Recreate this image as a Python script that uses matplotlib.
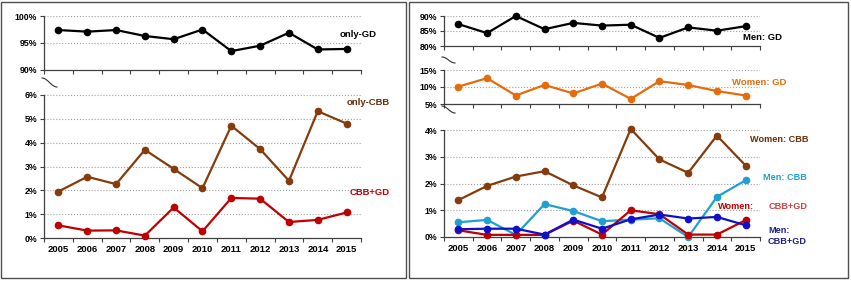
import numpy as np
import matplotlib
matplotlib.use("Agg")
import matplotlib.pyplot as plt
from matplotlib.patches import Rectangle
from matplotlib.lines import Line2D

plt.rcParams['font.family'] = ['Liberation Sans', 'DejaVu Sans']
plt.rcParams['font.weight'] = 'bold'

YEARS = ['2005', '2006', '2007', '2008', '2009', '2010', '2011', '2012', '2013', '2014', '2015']

# left panel (all)
ONLY_GD = [97.4, 97.1, 97.4, 96.3, 95.7, 97.5, 93.5, 94.5, 96.9, 93.8, 93.9]
ONLY_CBB = [1.95, 2.57, 2.26, 3.70, 2.90, 2.09, 4.71, 3.73, 2.40, 5.32, 4.80]
CBB_GD = [0.53, 0.31, 0.32, 0.10, 1.28, 0.28, 1.68, 1.65, 0.67, 0.76, 1.07]

# right panel (by sex)
MEN_GD = [87.3, 84.3, 90.0, 85.6, 87.7, 86.8, 87.1, 82.7, 86.2, 85.1, 86.6]
WOMEN_GD = [10.1, 12.6, 7.5, 10.6, 8.1, 11.0, 6.5, 11.7, 10.6, 8.8, 7.5]
WOMEN_CBB = [1.38, 1.91, 2.26, 2.46, 1.93, 1.48, 4.04, 2.90, 2.40, 3.79, 2.67]
MEN_CBB = [0.55, 0.64, 0.08, 1.23, 0.97, 0.59, 0.65, 0.70, 0.00, 1.50, 2.12]
WOMEN_CBB_GD = [0.25, 0.08, 0.08, 0.08, 0.61, 0.09, 1.00, 0.85, 0.09, 0.09, 0.63]
MEN_CBB_GD = [0.29, 0.31, 0.31, 0.09, 0.65, 0.31, 0.66, 0.84, 0.69, 0.75, 0.44]

W, H = 851, 282
fig = plt.figure(figsize=(W / 100, H / 100), dpi=100)

BLACK = '#000000'
BROWN = '#843C0C'
RED = '#C00000'
ORANGE = '#E46C0A'
LBLUE = '#1FA0D0'
BLUE = '#1010C8'


def px_axes(x0, y0, x1, y1):
    return fig.add_axes([x0 / W, 1 - y1 / H, (x1 - x0) / W, (y1 - y0) / H])


def style(ax, ylim, yticks, ylabels, show_years=False):
    x = np.arange(len(YEARS))
    ax.set_xlim(-0.5, len(YEARS) - 0.5)
    ax.set_ylim(*ylim)
    ax.set_xticks(np.arange(len(YEARS) + 1) - 0.5)
    ax.set_xticklabels([])
    ax.set_xticks(x, minor=True)
    if show_years:
        ax.set_xticklabels(YEARS, minor=True, fontsize=6.8, fontweight='bold')
    ax.tick_params(axis='x', which='major', length=3, direction='out', color='#404040')
    ax.tick_params(axis='x', which='minor', length=0, pad=5)
    ax.set_yticks(yticks)
    ax.set_yticklabels(ylabels, fontsize=6.3, fontweight='bold')
    ax.tick_params(axis='y', length=3, direction='out', color='#404040', pad=2)
    for s in ['top', 'right']:
        ax.spines[s].set_visible(False)
    for s in ['left', 'bottom']:
        ax.spines[s].set_color('#404040')
        ax.spines[s].set_linewidth(0.9)
    for v in yticks[1:]:
        ax.axhline(v, color='#A0A0A0', lw=0.8, ls=':', zorder=0)
    ax.patch.set_alpha(0)


def line(ax, vals, color):
    ax.plot(np.arange(len(vals)), vals, color=color, lw=1.6, marker='o',
            markersize=4.5, clip_on=False, zorder=3)


def squiggle(x0, y0, x1, y1):
    t = np.linspace(0, 1, 30)
    xs = x0 + (x1 - x0) * t
    ys = y0 + (y1 - y0) * (0.5 - 0.5 * np.cos(np.pi * t))
    fig.add_artist(Line2D(xs / W, 1 - ys / H, color='#303030', lw=0.8))


# panel borders
fig.add_artist(Rectangle((1 / W, 4 / H), 405 / W, 276 / H, fill=False,
                         edgecolor='#505050', lw=1.0, transform=fig.transFigure))
fig.add_artist(Rectangle((409 / W, 4 / H), 439 / W, 276 / H, fill=False,
                         edgecolor='#505050', lw=1.0, transform=fig.transFigure))

# ---- left panel
ax1 = px_axes(44, 16, 361, 70)
style(ax1, (90, 100), [90, 95, 100], ['90%', '95%', '100%'])
line(ax1, ONLY_GD, BLACK)
ax1.text(10.4, 96.5, 'only-GD', ha='center', va='center', fontsize=6.8,
         fontweight='bold', color=BLACK)

ax2 = px_axes(44, 95, 361, 238)
style(ax2, (0, 6), [0, 1, 2, 3, 4, 5, 6], ['0%', '1%', '2%', '3%', '4%', '5%', '6%'],
      show_years=True)
line(ax2, ONLY_CBB, BROWN)
line(ax2, CBB_GD, RED)
ax2.text(10.76, 5.68, 'only-CBB', ha='center', va='center', fontsize=6.8,
         fontweight='bold', color='#6B2C08')
ax2.text(10.8, 1.93, 'CBB+GD', ha='center', va='center', fontsize=6.8,
         fontweight='bold', color=RED)
squiggle(42, 78, 57, 87)

# ---- right panel
ax3 = px_axes(444, 16, 760, 46)
style(ax3, (80, 90), [80, 85, 90], ['80%', '85%', '90%'])
line(ax3, MEN_GD, BLACK)
ax3.text(10.59, 83.0, 'Men: GD', ha='center', va='center', fontsize=6.8,
         fontweight='bold', color=BLACK)

ax4 = px_axes(444, 70, 760, 104)
style(ax4, (5, 15), [5, 10, 15], ['5%', '10%', '15%'])
line(ax4, WOMEN_GD, ORANGE)
ax4.text(10.46, 11.45, 'Women: GD', ha='center', va='center', fontsize=6.8,
         fontweight='bold', color=ORANGE)

ax5 = px_axes(444, 130, 760, 237)
style(ax5, (0, 4), [0, 1, 2, 3, 4], ['0%', '1%', '2%', '3%', '4%'], show_years=True)
line(ax5, WOMEN_CBB, BROWN)
line(ax5, MEN_CBB, LBLUE)
line(ax5, WOMEN_CBB_GD, RED)
line(ax5, MEN_CBB_GD, BLUE)
ax5.text(11.16, 3.64, 'Women: CBB', ha='center', va='center', fontsize=6.6,
         fontweight='bold', color='#6B2C08')
ax5.text(11.37, 2.24, 'Men: CBB', ha='center', va='center', fontsize=6.6,
         fontweight='bold', color=LBLUE)
ax5.text(9.66, 1.13, 'Women:', ha='center', va='center', fontsize=6.6,
         fontweight='bold', color=RED)
ax5.text(11.47, 1.13, 'CBB+GD', ha='center', va='center', fontsize=6.6,
         fontweight='bold', color='#D04040')
ax5.text(10.78, 0.03, 'Men:\nCBB+GD', ha='left', va='center', fontsize=6.6,
         fontweight='bold', color='#20208C', linespacing=1.25)
squiggle(442, 57, 455, 63)
squiggle(442, 106, 455, 113)

fig.savefig('out.png', dpi=100)
